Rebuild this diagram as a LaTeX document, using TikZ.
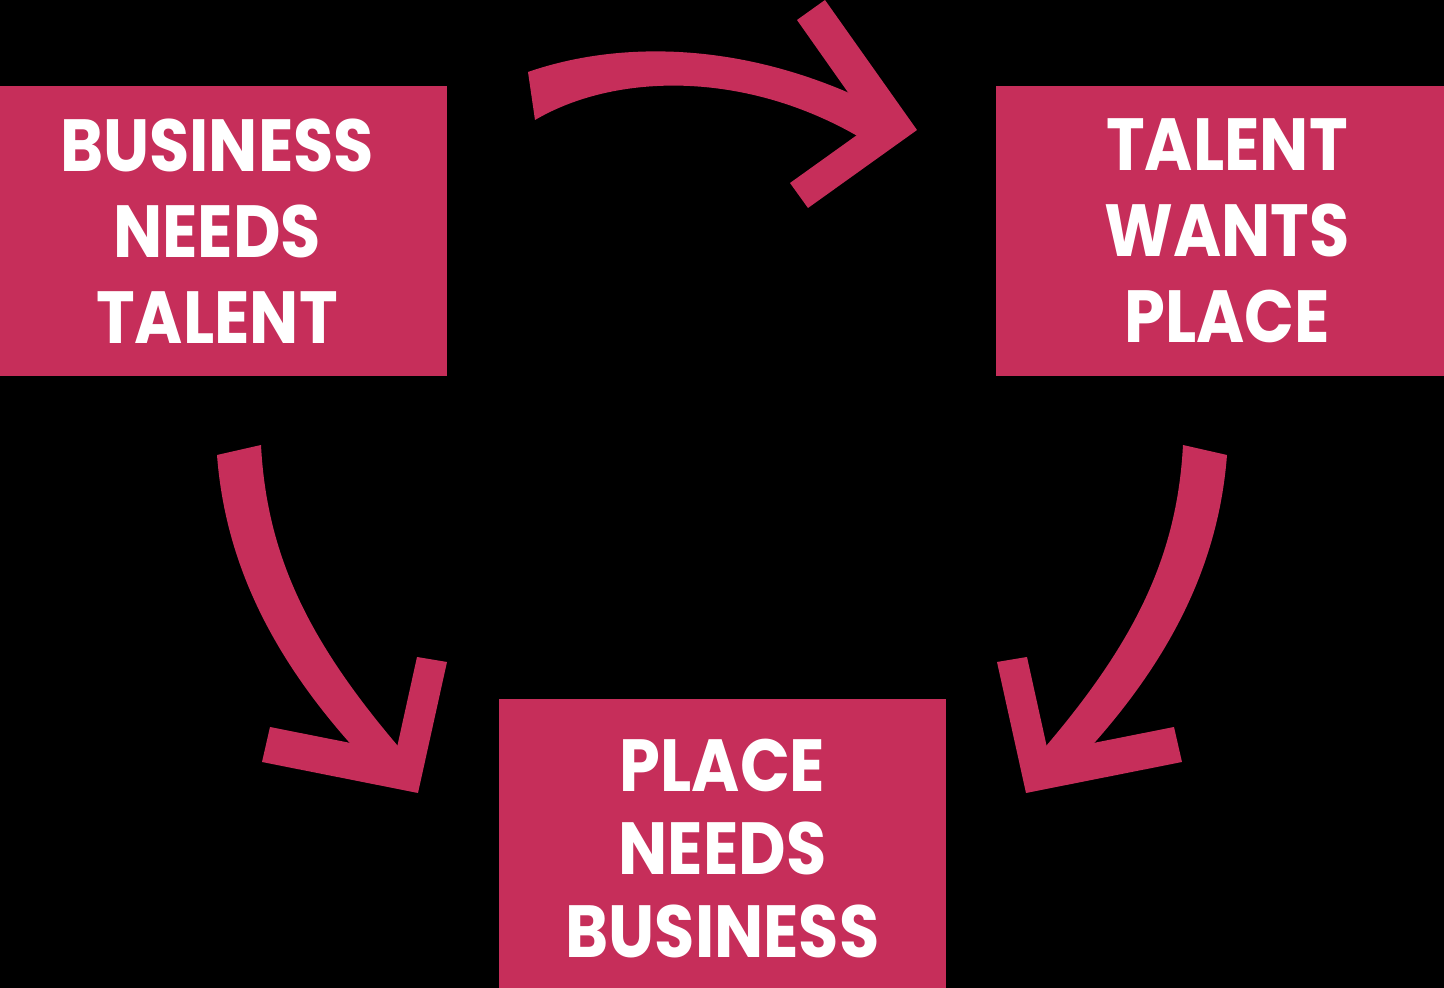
\documentclass[tikz,border=0pt]{standalone}
\usepackage{fontspec}
\setmainfont{Poppins}[BoldFont={* Bold},BoldFeatures={FakeStretch=0.886}]
\definecolor{mag}{RGB}{198,46,90}
\begin{document}
\begin{tikzpicture}[x=0.01cm,y=-0.01cm,
  box/.style={fill=mag,draw=none,minimum width=4.47cm,minimum height=2.89cm,inner sep=0pt},
  boxtext/.style={text=white,align=center,inner sep=0pt,font=\bfseries\fontsize{21}{24.4}\selectfont},
  arrowshape/.style={fill=mag,draw=none}]
\fill[black] (0,0) rectangle (1444,988);
\useasboundingbox (0,0) rectangle (1444,988);
\node[box] (bnt) at (223.5,231) {};
\node[boxtext] (bntt) at (217,231) {BUSINESS\\NEEDS\\TALENT};
\node[box] (twp) at (1220,231) {};
\node[boxtext] (twpt) at (1227,231) {TALENT\\WANTS\\PLACE};
\node[box] (pnb) at (722.5,843.5) {};
\node[boxtext,font=\bfseries\fontsize{21}{23.6}\selectfont] (pnbt) at (722.5,849) {PLACE\\NEEDS\\BUSINESS};
% top arrow
\fill[arrowshape] (797,20) -- (825,0) -- (917,130) -- (808,208) -- (790,183) -- (871,125) -- cycle;
\fill[arrowshape] (528,72) .. controls (620,40) and (750,40) .. (885,110) -- (880,150) .. controls (760,70) and (620,70) .. (535,120) -- cycle;
% left arrow
\fill[arrowshape] (270,727) -- (262,762) -- (418,793) -- (447,662) -- (417,657) -- (396,752) -- cycle;
\fill[arrowshape] (217,455) .. controls (225,560) and (270,660) .. (370,765) -- (410,760) .. controls (312,648) and (267,560) .. (261,445) -- cycle;
% right arrow
\fill[arrowshape] (1174,727) -- (1182,762) -- (1026,793) -- (997,662) -- (1027,657) -- (1048,752) -- cycle;
\fill[arrowshape] (1227,455) .. controls (1219,560) and (1174,660) .. (1074,765) -- (1034,760) .. controls (1132,648) and (1177,560) .. (1183,445) -- cycle;
\end{tikzpicture}
\end{document}
